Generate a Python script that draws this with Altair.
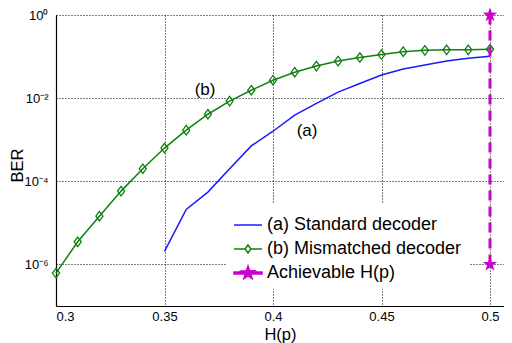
import altair as alt
import pandas as pd

A = "(a) Standard decoder"
B = "(b) Mismatched decoder"
C = "Achievable H(p)"
SERIES = [A, B, C]

# Series (a): standard decoder
a_x = [0.35, 0.36, 0.37, 0.38, 0.39, 0.40, 0.41, 0.42, 0.43, 0.44, 0.45, 0.46, 0.47, 0.48, 0.49, 0.50]
a_y = [2.05e-6, 2.1e-5, 5.5e-5, 2.0e-4, 7.1e-4, 1.6e-3, 3.9e-3, 7.5e-3, 1.4e-2, 2.25e-2, 3.6e-2,
       5.0e-2, 6.3e-2, 7.8e-2, 9.1e-2, 0.102]

# Series (b): mismatched decoder
b_x = [0.30, 0.31, 0.32, 0.33, 0.34, 0.35, 0.36, 0.37, 0.38, 0.39, 0.40,
       0.41, 0.42, 0.43, 0.44, 0.45, 0.46, 0.47, 0.48, 0.49, 0.50]
b_y = [6.2e-7, 3.5e-6, 1.45e-5, 5.8e-5, 2.0e-4, 6.3e-4, 1.7e-3, 4.1e-3, 8.5e-3, 1.55e-2, 2.7e-2,
       4.2e-2, 5.9e-2, 7.8e-2, 9.5e-2, 0.112, 0.131, 0.141, 0.145, 0.145, 0.15]

# Achievable H(p)
c_x = [0.5, 0.5]
c_y = [1e-6, 1.0]

# Annotations
ann_text = ["(b)", "(a)"]
ann_x = [0.3687, 0.4157]
ann_y = [0.0156, 0.0016]

x_ticks = [0.3, 0.35, 0.4, 0.45, 0.5]
y_ticks = [1e-6, 1e-4, 1e-2, 1.0]

FONT = "Liberation Sans"
BLUE = "#1a1aff"
GREEN = "#108010"
MAG = "#cc00cc"

a_df = pd.DataFrame({"x": a_x, "y": a_y})
b_df = pd.DataFrame({"x": b_x, "y": b_y})
rule_df = pd.DataFrame({"x": [c_x[0]], "y": [c_y[0]], "y2": [c_y[1]]})
star_df = pd.DataFrame({"x": c_x, "y": c_y})
ann_df = pd.DataFrame({"x": ann_x, "y": ann_y, "t": ann_text})
# legend-only rows (outside the plotting domain, clipped)
leg_df = pd.DataFrame({"x": [0.2, 0.2, 0.2], "y": [1e-9, 1e-9, 1e-9], "series": SERIES})

xscale = alt.Scale(domain=[0.3, 0.50645], nice=False, zero=False)
yscale = alt.Scale(type="log", domain=[1e-7, 1.0], nice=False)

xaxis = alt.Axis(values=x_ticks, format="~g", title="H(p)", ticks=False,
                 labelFont=FONT, labelFontSize=13, labelColor="black", labelPadding=4,
                 titleFont=FONT, titleFontSize=16.5, titleFontWeight="normal", titleColor="black",
                 titleX=224, titleY=33, titleBaseline="alphabetic", titleAlign="center",
                 domainColor="black", domainWidth=1.2,
                 grid=True, gridColor="black", gridDash=[1, 2], gridOpacity=1, gridWidth=1)
yaxis = alt.Axis(values=y_ticks, title="BER", ticks=False,
                 labelExpr="datum.value > 0.5 ? '10⁰' : datum.value > 0.005 ? '10⁻²' : datum.value > 0.00005 ? '10⁻⁴' : '10⁻⁶'",
                 labelFont=FONT, labelFontSize=13, labelColor="black", labelPadding=8,
                 titleFont=FONT, titleFontSize=16.5, titleFontWeight="normal", titleColor="black",
                 titleX=-39, titleY=150, titleAngle=270, titleBaseline="middle", titleAlign="center",
                 domainColor="black", domainWidth=1.2,
                 grid=True, gridColor="black", gridDash=[1, 2], gridOpacity=1, gridWidth=1)

STAR = ("M0,-1L0.2351,-0.3236L0.9511,-0.309L0.3804,0.1236L0.5878,0.809L0,0.4"
        "L-0.5878,0.809L-0.3804,0.1236L-0.9511,-0.309L-0.2351,-0.3236Z")
DIAMOND = "M0,-1L0.75,0L0,1L-0.75,0Z"
line_a = "M-1,0L1,0"
diamond_b = "M-1,0L-0.21,0M-0.21,0L0,-0.29L0.21,0L0,0.29ZM0.21,0L1,0"
star_line = ("M-1,-0.07L1,-0.07L1,0.07L-1,0.07Z"
             "M0,-0.5L0.1176,-0.1618L0.4755,-0.1545L0.1902,0.0618L0.2939,0.4045"
             "L0,0.2L-0.2939,0.4045L-0.1902,0.0618L-0.4755,-0.1545L-0.1176,-0.1618Z")

legend = alt.Legend(
    title=None, orient="none", legendX=170, legendY=188,
    fillColor="white", padding=7,
    labelFont=FONT, labelFontSize=18, labelColor="black", labelOffset=4,
    symbolSize=784, symbolStrokeWidth=1.5, symbolOpacity=1, rowPadding=0, labelLimit=400,
)

stroke_scale = alt.Scale(domain=SERIES, range=[BLUE, GREEN, MAG])
shape_scale = alt.Scale(domain=SERIES, range=[line_a, diamond_b, star_line])
fill_scale = alt.Scale(domain=SERIES, range=["transparent", "transparent", MAG])

X = alt.X("x:Q", scale=xscale, axis=xaxis)
Y = alt.Y("y:Q", scale=yscale, axis=yaxis)

line_a_chart = alt.Chart(a_df).mark_line(strokeWidth=1.5, color=BLUE).encode(x=X, y=Y)
line_b_chart = alt.Chart(b_df).mark_line(strokeWidth=1.5, color=GREEN).encode(x=X, y=Y)

points = alt.Chart(b_df).mark_point(
    shape=DIAMOND, size=90, filled=False, strokeWidth=1.3, opacity=1, color=GREEN
).encode(x=X, y=Y)

rule = alt.Chart(rule_df).mark_rule(strokeWidth=3, strokeDash=[10, 6], color=MAG).encode(
    x=X, y=Y, y2="y2:Q",
)

stars = alt.Chart(star_df).mark_point(
    shape=STAR, size=230, filled=True, opacity=1, color=MAG
).encode(x=X, y=Y)

legend_layer = alt.Chart(leg_df).mark_point(clip=True, strokeWidth=1.5, opacity=1, size=784).encode(
    x=X, y=Y,
    stroke=alt.Stroke("series:N", scale=stroke_scale, legend=legend),
    shape=alt.Shape("series:N", scale=shape_scale, legend=legend),
    fill=alt.Fill("series:N", scale=fill_scale, legend=legend),
)

ann = alt.Chart(ann_df).mark_text(font=FONT, fontSize=17, color="black").encode(
    x=X, y=Y, text="t:N"
)

chart = alt.layer(line_a_chart, line_b_chart, points, rule, stars, legend_layer, ann).properties(
    width=448, height=291,
    autosize=alt.AutoSizeParams(type="none"),
    padding={"left": 48, "top": 7, "right": 0, "bottom": 37},
    background="white",
).configure_view(stroke=None)

chart.save("out.html", embed_options={"renderer": "svg", "actions": False})
